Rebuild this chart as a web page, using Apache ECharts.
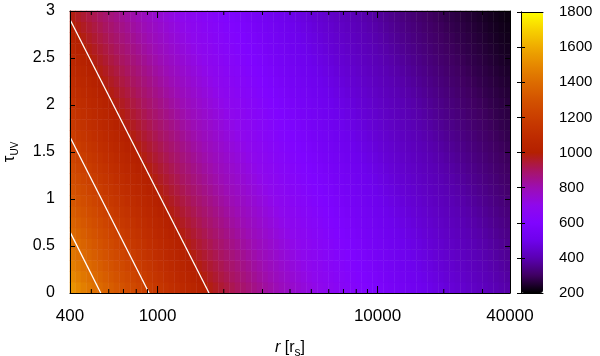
<!DOCTYPE html>
<html>
<head>
<meta charset="utf-8">
<script src="https://cdn.jsdelivr.net/npm/echarts@6/dist/echarts.min.js"></script>
<style>
  html, body { margin: 0; padding: 0; background: #fff; }
  #chart { width: 600px; height: 356px; }
</style>
</head>
<body>
<div id="chart"></div>
<script>
// temperature map: 26 rows going up from tau = 0, 80 columns going out from r = 400 (equal log steps)
var tempGrid = [
  [1528,1495,1466,1438,1413,1388,1364,1340,1317,1295,1273,1251,1229,1208,1187,1167,1147,1128,1108,1089,1071,1053,1035,1017,999,982,965,949,933,917,901,886,871,856,841,826,812,798,784,771,758,745,732,720,707,695,683,672,660,649,638,627,616,606,595,585,575,565,555,546,537,528,519,510,501,492,484,476,467,459,451,444,436,429,421,414,407,400,393,387],
  [1495,1466,1438,1413,1388,1364,1340,1317,1295,1273,1251,1229,1208,1187,1167,1147,1128,1108,1089,1071,1053,1035,1017,999,982,965,949,933,917,901,886,871,856,841,826,812,798,784,771,758,745,732,720,707,695,683,672,660,649,638,627,616,606,595,585,575,565,555,546,537,528,519,510,501,492,484,476,467,459,451,444,436,429,421,414,407,400,393,387,378],
  [1466,1438,1413,1388,1364,1340,1317,1295,1273,1251,1229,1208,1187,1167,1147,1128,1108,1089,1071,1053,1035,1017,999,982,965,949,933,917,901,886,871,856,841,826,812,798,784,771,758,745,732,720,707,695,683,672,660,649,638,627,616,606,595,585,575,565,555,546,537,528,519,510,501,492,484,476,467,459,451,444,436,429,421,414,407,400,393,387,378,370],
  [1438,1413,1388,1364,1340,1317,1295,1273,1251,1229,1208,1187,1167,1147,1128,1108,1089,1071,1053,1035,1017,999,982,965,949,933,917,901,886,871,856,841,826,812,798,784,771,758,745,732,720,707,695,683,672,660,649,638,627,616,606,595,585,575,565,555,546,537,528,519,510,501,492,484,476,467,459,451,444,436,429,421,414,407,400,393,387,378,370,361],
  [1413,1388,1364,1340,1317,1295,1273,1251,1229,1208,1187,1167,1147,1128,1108,1089,1071,1053,1035,1017,999,982,965,949,933,917,901,886,871,856,841,826,812,798,784,771,758,745,732,720,707,695,683,672,660,649,638,627,616,606,595,585,575,565,555,546,537,528,519,510,501,492,484,476,467,459,451,444,436,429,421,414,407,400,393,387,378,370,361,353],
  [1388,1364,1340,1317,1295,1273,1251,1229,1208,1187,1167,1147,1128,1108,1089,1071,1053,1035,1017,999,982,965,949,933,917,901,886,871,856,841,826,812,798,784,771,758,745,732,720,707,695,683,672,660,649,638,627,616,606,595,585,575,565,555,546,537,528,519,510,501,492,484,476,467,459,451,444,436,429,421,414,407,400,393,387,378,370,361,353,345],
  [1364,1340,1317,1295,1273,1251,1229,1208,1187,1167,1147,1128,1108,1089,1071,1053,1035,1017,999,982,965,949,933,917,901,886,871,856,841,826,812,798,784,771,758,745,732,720,707,695,683,672,660,649,638,627,616,606,595,585,575,565,555,546,537,528,519,510,501,492,484,476,467,459,451,444,436,429,421,414,407,400,393,387,378,370,361,353,345,337],
  [1340,1317,1295,1273,1251,1229,1208,1187,1167,1147,1128,1108,1089,1071,1053,1035,1017,999,982,965,949,933,917,901,886,871,856,841,826,812,798,784,771,758,745,732,720,707,695,683,672,660,649,638,627,616,606,595,585,575,565,555,546,537,528,519,510,501,492,484,476,467,459,451,444,436,429,421,414,407,400,393,387,378,370,361,353,345,337,329],
  [1317,1295,1273,1251,1229,1208,1187,1167,1147,1128,1108,1089,1071,1053,1035,1017,999,982,965,949,933,917,901,886,871,856,841,826,812,798,784,771,758,745,732,720,707,695,683,672,660,649,638,627,616,606,595,585,575,565,555,546,537,528,519,510,501,492,484,476,467,459,451,444,436,429,421,414,407,400,393,387,378,370,361,353,345,337,329,322],
  [1295,1273,1251,1229,1208,1187,1167,1147,1128,1108,1089,1071,1053,1035,1017,999,982,965,949,933,917,901,886,871,856,841,826,812,798,784,771,758,745,732,720,707,695,683,672,660,649,638,627,616,606,595,585,575,565,555,546,537,528,519,510,501,492,484,476,467,459,451,444,436,429,421,414,407,400,393,387,378,370,361,353,345,337,329,322,314],
  [1273,1251,1229,1208,1187,1167,1147,1128,1108,1089,1071,1053,1035,1017,999,982,965,949,933,917,901,886,871,856,841,826,812,798,784,771,758,745,732,720,707,695,683,672,660,649,638,627,616,606,595,585,575,565,555,546,537,528,519,510,501,492,484,476,467,459,451,444,436,429,421,414,407,400,393,387,378,370,361,353,345,337,329,322,314,307],
  [1251,1229,1208,1187,1167,1147,1128,1108,1089,1071,1053,1035,1017,999,982,965,949,933,917,901,886,871,856,841,826,812,798,784,771,758,745,732,720,707,695,683,672,660,649,638,627,616,606,595,585,575,565,555,546,537,528,519,510,501,492,484,476,467,459,451,444,436,429,421,414,407,400,393,387,378,370,361,353,345,337,329,322,314,307,300],
  [1229,1208,1187,1167,1147,1128,1108,1089,1071,1053,1035,1017,999,982,965,949,933,917,901,886,871,856,841,826,812,798,784,771,758,745,732,720,707,695,683,672,660,649,638,627,616,606,595,585,575,565,555,546,537,528,519,510,501,492,484,476,467,459,451,444,436,429,421,414,407,400,393,387,378,370,361,353,345,337,329,322,314,307,300,294],
  [1208,1187,1167,1147,1128,1108,1089,1071,1053,1035,1017,999,982,965,949,933,917,901,886,871,856,841,826,812,798,784,771,758,745,732,720,707,695,683,672,660,649,638,627,616,606,595,585,575,565,555,546,537,528,519,510,501,492,484,476,467,459,451,444,436,429,421,414,407,400,393,387,378,370,361,353,345,337,329,322,314,307,300,294,287],
  [1187,1167,1147,1128,1108,1089,1071,1053,1035,1017,999,982,965,949,933,917,901,886,871,856,841,826,812,798,784,771,758,745,732,720,707,695,683,672,660,649,638,627,616,606,595,585,575,565,555,546,537,528,519,510,501,492,484,476,467,459,451,444,436,429,421,414,407,400,393,387,378,370,361,353,345,337,329,322,314,307,300,294,287,280],
  [1167,1147,1128,1108,1089,1071,1053,1035,1017,999,982,965,949,933,917,901,886,871,856,841,826,812,798,784,771,758,745,732,720,707,695,683,672,660,649,638,627,616,606,595,585,575,565,555,546,537,528,519,510,501,492,484,476,467,459,451,444,436,429,421,414,407,400,393,387,378,370,361,353,345,337,329,322,314,307,300,294,287,280,274],
  [1147,1128,1108,1089,1071,1053,1035,1017,999,982,965,949,933,917,901,886,871,856,841,826,812,798,784,771,758,745,732,720,707,695,683,672,660,649,638,627,616,606,595,585,575,565,555,546,537,528,519,510,501,492,484,476,467,459,451,444,436,429,421,414,407,400,393,387,378,370,361,353,345,337,329,322,314,307,300,294,287,280,274,268],
  [1128,1108,1089,1071,1053,1035,1017,999,982,965,949,933,917,901,886,871,856,841,826,812,798,784,771,758,745,732,720,707,695,683,672,660,649,638,627,616,606,595,585,575,565,555,546,537,528,519,510,501,492,484,476,467,459,451,444,436,429,421,414,407,400,393,387,378,370,361,353,345,337,329,322,314,307,300,294,287,280,274,268,262],
  [1108,1089,1071,1053,1035,1017,999,982,965,949,933,917,901,886,871,856,841,826,812,798,784,771,758,745,732,720,707,695,683,672,660,649,638,627,616,606,595,585,575,565,555,546,537,528,519,510,501,492,484,476,467,459,451,444,436,429,421,414,407,400,393,387,378,370,361,353,345,337,329,322,314,307,300,294,287,280,274,268,262,256],
  [1089,1071,1053,1035,1017,999,982,965,949,933,917,901,886,871,856,841,826,812,798,784,771,758,745,732,720,707,695,683,672,660,649,638,627,616,606,595,585,575,565,555,546,537,528,519,510,501,492,484,476,467,459,451,444,436,429,421,414,407,400,393,387,378,370,361,353,345,337,329,322,314,307,300,294,287,280,274,268,262,256,250],
  [1071,1053,1035,1017,999,982,965,949,933,917,901,886,871,856,841,826,812,798,784,771,758,745,732,720,707,695,683,672,660,649,638,627,616,606,595,585,575,565,555,546,537,528,519,510,501,492,484,476,467,459,451,444,436,429,421,414,407,400,393,387,378,370,361,353,345,337,329,322,314,307,300,294,287,280,274,268,262,256,250,244],
  [1053,1035,1017,999,982,965,949,933,917,901,886,871,856,841,826,812,798,784,771,758,745,732,720,707,695,683,672,660,649,638,627,616,606,595,585,575,565,555,546,537,528,519,510,501,492,484,476,467,459,451,444,436,429,421,414,407,400,393,387,378,370,361,353,345,337,329,322,314,307,300,294,287,280,274,268,262,256,250,244,238],
  [1035,1017,999,982,965,949,933,917,901,886,871,856,841,826,812,798,784,771,758,745,732,720,707,695,683,672,660,649,638,627,616,606,595,585,575,565,555,546,537,528,519,510,501,492,484,476,467,459,451,444,436,429,421,414,407,400,393,387,378,370,361,353,345,337,329,322,314,307,300,294,287,280,274,268,262,256,250,244,238,233],
  [1017,999,982,965,949,933,917,901,886,871,856,841,826,812,798,784,771,758,745,732,720,707,695,683,672,660,649,638,627,616,606,595,585,575,565,555,546,537,528,519,510,501,492,484,476,467,459,451,444,436,429,421,414,407,400,393,387,378,370,361,353,345,337,329,322,314,307,300,294,287,280,274,268,262,256,250,244,238,233,228],
  [999,982,965,949,933,917,901,886,871,856,841,826,812,798,784,771,758,745,732,720,707,695,683,672,660,649,638,627,616,606,595,585,575,565,555,546,537,528,519,510,501,492,484,476,467,459,451,444,436,429,421,414,407,400,393,387,378,370,361,353,345,337,329,322,314,307,300,294,287,280,274,268,262,256,250,244,238,233,228,223],
  [982,965,949,933,917,901,886,871,856,841,826,812,798,784,771,758,745,732,720,707,695,683,672,660,649,638,627,616,606,595,585,575,565,555,546,537,528,519,510,501,492,484,476,467,459,451,444,436,429,421,414,407,400,393,387,378,370,361,353,345,337,329,322,314,307,300,294,287,280,274,268,262,256,250,244,238,233,228,223,218]
];

var rMin = 400, rMax = 40000;
var tauMin = 0, tauMax = 3;
var xMajorTicks = [1000, 10000];
var xMinorTicks = [500, 600, 700, 800, 900, 2000, 3000, 4000, 5000, 6000, 7000, 8000, 9000, 20000, 30000];

// white contour lines (straight in log r / tau)
var contourLevels = [1400, 1200, 1000];
var contourTauAtRMin = [0.65, 1.66, 2.91];
var contourRAtTau0 = [552, 915, 1714];

var cbMin = 200, cbMax = 1800, cbStep = 200;

// gnuplot default pm3d palette (rgbformulae 7,5,15)
var palette = [
  "#000000", "#400062", "#5a00b4", "#6e02ec", "#8004ff", "#8f08ec", "#9c0db4", "#a91562",
  "#b42000", "#bf2d00", "#ca3e00", "#d35300", "#dd6c00", "#e68900", "#efab00", "#f7d200", "#ffff00"
];

var chart = echarts.init(document.getElementById("chart"));

var heatData = [];
tempGrid.forEach(function (row, j) {
  row.forEach(function (v, i) { heatData.push([i, j, v]); });
});

var font = "Liberation Sans, Arial, Helvetica, sans-serif";
var black = "#000";
var plain = function (v) { return String(Math.round(v * 10) / 10); };

var contourSeries = contourLevels.map(function (lvl, k) {
  return {
    name: "T=" + lvl,
    type: "line",
    xAxisIndex: 1,
    yAxisIndex: 1,
    showSymbol: false,
    silent: true,
    z: 5,
    lineStyle: { color: "#fff", width: 1.3 },
    data: [[rMin, contourTauAtRMin[k]], [contourRAtTau0[k], tauMin]]
  };
});

var tickData = xMinorTicks.map(function (v) { return [v, 0]; })
  .concat(xMajorTicks.map(function (v) { return [v, 1]; }));

var frameLine = { show: true, lineStyle: { color: black, width: 1 } };

var option = {
  animation: false,
  textStyle: { fontFamily: font, color: black },
  grid: [
    { left: 70, top: 11, width: 440, height: 282, outerBoundsMode: "none" },
    { left: 521, top: 12, width: 22, height: 281, outerBoundsMode: "none" }
  ],
  visualMap: {
    type: "continuous",
    min: cbMin,
    max: cbMax,
    seriesIndex: 0,
    calculable: false,
    left: 521,
    top: 12,
    padding: 0,
    itemWidth: 22,
    itemHeight: 281,
    text: null,
    inRange: { color: palette }
  },
  xAxis: [
    { type: "category", gridIndex: 0, position: "bottom", show: false,
      data: tempGrid[0].map(function (_, i) { return i; }) },
    { type: "log", gridIndex: 0, logBase: 10, min: rMin, max: rMax, position: "bottom", z: 10,
      axisLine: frameLine, axisTick: { show: false }, splitLine: { show: false },
      axisLabel: { fontSize: 17, margin: 15, color: black, showMinLabel: true, showMaxLabel: true, formatter: plain },
      name: "{i|r} [r{s|s}]", nameLocation: "middle", nameGap: 44,
      nameTextStyle: {
        fontSize: 16, color: black,
        rich: {
          i: { fontSize: 16, fontStyle: "italic", fontFamily: font, lineHeight: 22 },
          s: { fontSize: 12, fontFamily: font, verticalAlign: "bottom", lineHeight: 12 }
        }
      } },
    { type: "log", gridIndex: 0, logBase: 10, min: rMin, max: rMax, position: "top", z: 10,
      axisLine: frameLine, axisTick: { show: false }, axisLabel: { show: false }, splitLine: { show: false } },
    { type: "value", gridIndex: 1, min: 0, max: 1, position: "bottom", z: 10,
      axisLine: frameLine, axisTick: { show: false }, axisLabel: { show: false }, splitLine: { show: false } },
    { type: "value", gridIndex: 1, min: 0, max: 1, position: "top", z: 10,
      axisLine: frameLine, axisTick: { show: false }, axisLabel: { show: false }, splitLine: { show: false } }
  ],
  yAxis: [
    { type: "category", gridIndex: 0, position: "left", show: false,
      data: tempGrid.map(function (_, j) { return j; }) },
    { type: "value", gridIndex: 0, min: tauMin, max: tauMax, interval: 0.5, position: "left", z: 10,
      axisLine: frameLine, splitLine: { show: false },
      axisTick: { show: true, inside: true, length: 5, lineStyle: { color: black } },
      axisLabel: { fontSize: 16, margin: 15, color: black, formatter: plain },
      name: "{t|τ}{s|UV}", nameLocation: "middle", nameGap: 50, nameRotate: 90,
      nameTextStyle: {
        fontSize: 16, color: black,
        rich: {
          t: { fontSize: 17, fontFamily: font, lineHeight: 22 },
          s: { fontSize: 10, fontFamily: font, verticalAlign: "bottom", lineHeight: 12 }
        }
      } },
    { type: "value", gridIndex: 0, min: tauMin, max: tauMax, interval: 0.5, position: "right", z: 10,
      axisLine: frameLine, splitLine: { show: false }, axisLabel: { show: false },
      axisTick: { show: true, inside: true, length: 5, lineStyle: { color: black } } },
    { type: "value", gridIndex: 1, min: cbMin, max: cbMax, interval: cbStep, position: "left", z: 10,
      axisLine: frameLine, splitLine: { show: false }, axisLabel: { show: false },
      axisTick: { show: true, inside: true, length: 4, lineStyle: { color: black } } },
    { type: "value", gridIndex: 1, min: cbMin, max: cbMax, interval: cbStep, position: "right", z: 10,
      axisLine: frameLine, splitLine: { show: false },
      axisTick: { show: true, inside: true, length: 4, lineStyle: { color: black } },
      axisLabel: { fontSize: 15, margin: 16, color: black, formatter: plain } }
  ],
  series: [
    {
      type: "heatmap",
      xAxisIndex: 0,
      yAxisIndex: 0,
      silent: true,
      itemStyle: { borderWidth: 0 },
      data: heatData
    }
  ].concat(contourSeries).concat([
    {
      type: "custom",
      xAxisIndex: 1,
      yAxisIndex: 1,
      silent: true,
      z: 6,
      data: tickData,
      renderItem: function (params, api) {
        var v = api.value(0);
        var len = api.value(1) ? 7 : 4;
        var b = api.coord([v, tauMin]);
        var t = api.coord([v, tauMax]);
        var st = { stroke: black, lineWidth: 1 };
        return {
          type: "group",
          children: [
            { type: "line", shape: { x1: b[0], y1: b[1], x2: b[0], y2: b[1] - len }, style: st },
            { type: "line", shape: { x1: t[0], y1: t[1], x2: t[0], y2: t[1] + len }, style: st }
          ]
        };
      }
    }
  ])
};

chart.setOption(option);
window.addEventListener("resize", function () { chart && chart.resize(); });
</script>
</body>
</html>
